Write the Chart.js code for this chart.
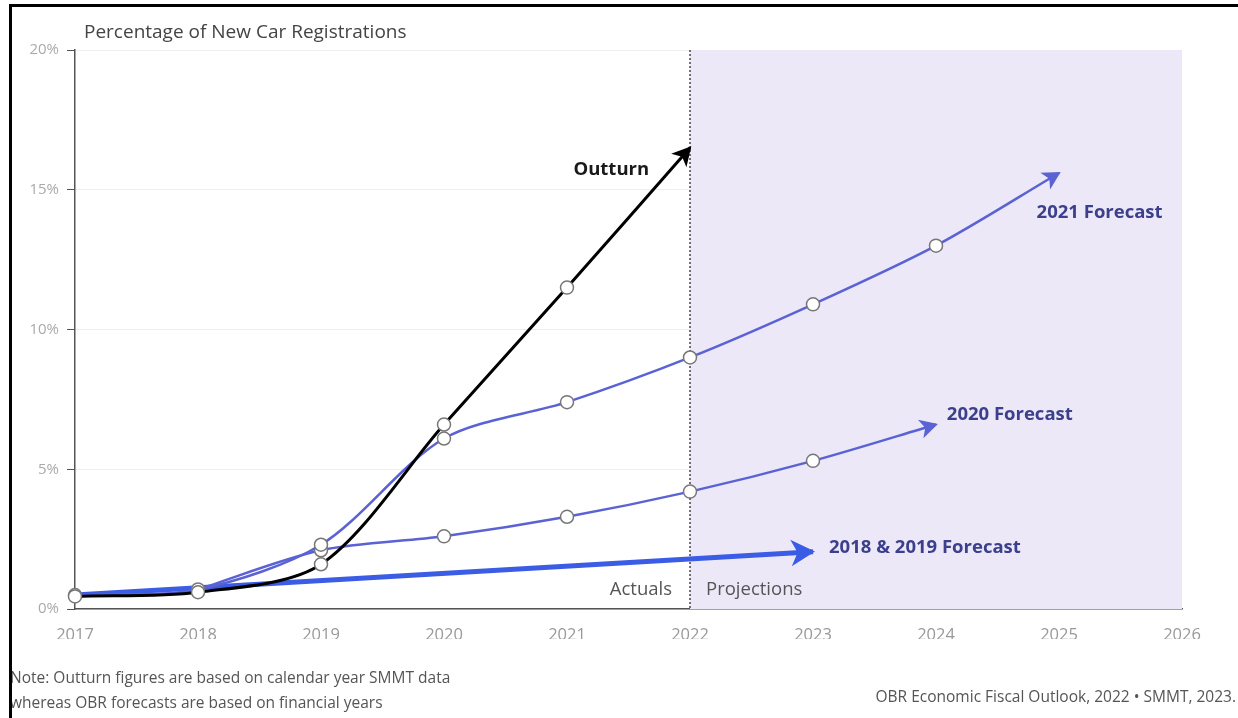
<!DOCTYPE html>
<html>
<head>
<meta charset="utf-8">
<script src="https://cdn.jsdelivr.net/npm/chart.js@4"></script>
<style>
  html, body { margin: 0; padding: 0; background: #fff; }
  #wrap { position: relative; width: 1238px; height: 718px; overflow: hidden; }
  #frame { position: absolute; left: 9px; top: 4px; width: 1229px; height: 714px;
           border-left: 3px solid #000; border-top: 3px solid #000; pointer-events: none; box-sizing: border-box; }
  canvas { position: absolute; left: 0; top: 0; }
</style>
</head>
<body>
<div id="wrap">
  <canvas id="c" width="1238" height="718"></canvas>
  <div id="frame"></div>
</div>
<script>
// ---- data ----
const outturnYears   = [2017, 2018, 2019, 2020, 2021, 2022];
const outturnValues  = [0.45, 0.6, 1.6, 6.6, 11.5, 16.5];
const f2021Years     = [2017, 2018, 2019, 2020, 2021, 2022, 2023, 2024, 2025];
const f2021Values    = [0.5, 0.7, 2.3, 6.1, 7.4, 9.0, 10.9, 13.0, 15.6];
const f2020Years     = [2018, 2019, 2020, 2021, 2022, 2023, 2024];
const f2020Values    = [0.7, 2.1, 2.6, 3.3, 4.2, 5.3, 6.6];
const f1819Years     = [2017, 2023];
const f1819Values    = [0.5, 2.05];
const yTicks         = [0, 5, 10, 15, 20];
const xTicks         = [2017, 2018, 2019, 2020, 2021, 2022, 2023, 2024, 2025, 2026];
const projectionFrom = 2022;
const projectionTo   = 2026;

const pts = (xs, ys) => xs.map((x, i) => ({ x: x, y: ys[i] }));
const radii = (n, r, skipFirst) => Array.from({length: n}, (_, i) => (i === n - 1 || (skipFirst && i === 0)) ? 0 : r);

const BLUE = '#5a62d4';
const BLUE2 = '#3b5ce4';
const LABEL = '#3b3f8c';
const FONT = '"Open Sans", "Noto Sans", sans-serif';

const annotations = [
  { text: 'Outturn', x: 2021.36, y: 15.7, color: '#1a1a1a', bold: true, align: 'center' },
  { text: '2021 Forecast', x: 2025.33, y: 14.17, color: LABEL, bold: true, align: 'center' },
  { text: '2020 Forecast', x: 2024.6, y: 6.94, color: LABEL, bold: true, align: 'center' },
  { text: '2018 & 2019 Forecast', x: 2023.91, y: 2.18, color: LABEL, bold: true, align: 'center' },
];

const bgPlugin = {
  id: 'bg',
  beforeDatasetsDraw(chart) {
    const { ctx, scales: { x, y } } = chart;
    const x0 = x.getPixelForValue(projectionFrom), x1 = x.getPixelForValue(projectionTo);
    const yt = y.getPixelForValue(20), yb = y.getPixelForValue(0);
    ctx.save();
    ctx.fillStyle = '#ece8f7';
    ctx.fillRect(x0, yt, x1 - x0, yb - yt);
    ctx.strokeStyle = '#444';
    ctx.lineWidth = 1.5;
    ctx.setLineDash([2, 2]);
    ctx.beginPath(); ctx.moveTo(x0, yt); ctx.lineTo(x0, yb); ctx.stroke();
    ctx.setLineDash([]);
    // Actuals / Projections labels
    ctx.font = '18.5px ' + FONT;
    ctx.fillStyle = '#555';
    ctx.textBaseline = 'middle';
    const yl = y.getPixelForValue(0) - 19;
    ctx.textAlign = 'right'; ctx.fillText('Actuals', x0 - 18, yl);
    ctx.textAlign = 'left'; ctx.fillText('Projections', x0 + 16, yl);
    ctx.restore();
  }
};

const arrowPlugin = {
  id: 'arrows',
  afterDatasetsDraw(chart) {
    const { ctx } = chart;
    chart.data.datasets.forEach((ds, di) => {
      const meta = chart.getDatasetMeta(di);
      const els = meta.data;
      const last = els[els.length - 1], prev = els[els.length - 2];
      let fx = prev.x, fy = prev.y;
      if (last.cp1x !== undefined && Math.hypot(last.x - last.cp1x, last.y - last.cp1y) > 1) { fx = last.cp1x; fy = last.cp1y; }
      const ang = Math.atan2(last.y - fy, last.x - fx);
      const L = ds.arrowSize, W = ds.arrowSize * 0.6;
      ctx.save();
      ctx.translate(last.x, last.y);
      ctx.rotate(ang);
      ctx.fillStyle = ds.borderColor;
      ctx.beginPath();
      ctx.moveTo(2, 0);
      ctx.lineTo(-L, -W);
      ctx.lineTo(-L * 0.7, 0);
      ctx.lineTo(-L, W);
      ctx.closePath();
      ctx.fill();
      ctx.restore();
    });
    const { x, y } = chart.scales;
    ctx.save();
    ctx.textBaseline = 'middle';
    annotations.forEach(a => {
      ctx.font = (a.bold ? 'bold ' : '') + '18.5px ' + FONT;
      ctx.fillStyle = a.color;
      ctx.textAlign = a.align;
      ctx.fillText(a.text, x.getPixelForValue(a.x), y.getPixelForValue(a.y));
    });
    ctx.restore();
  },
  afterDraw(chart) {
    const { ctx } = chart;
    ctx.save();
    ctx.textBaseline = 'middle';
    ctx.font = '19px ' + FONT;
    ctx.fillStyle = '#444';
    ctx.textAlign = 'left';
    ctx.fillText('Percentage of New Car Registrations', 84, 33);
    ctx.font = '15.5px ' + FONT;
    ctx.fillStyle = '#555';
    ctx.fillText('Note: Outturn figures are based on calendar year SMMT data', 10, 679);
    ctx.fillText('whereas OBR forecasts are based on financial years', 10, 704);
    ctx.textAlign = 'right';
    ctx.fillText('OBR Economic Fiscal Outlook, 2022 \u2022 SMMT, 2023.', 1236, 698);
    ctx.restore();
  }
};

const markerStyle = {
  pointBackgroundColor: '#fff',
  pointBorderColor: '#777',
  pointBorderWidth: 1.5,
  pointHoverRadius: 0,
};

new Chart(document.getElementById('c'), {
  type: 'line',
  data: {
    datasets: [
      Object.assign({
        label: '2018 & 2019 Forecast', data: pts(f1819Years, f1819Values),
        borderColor: BLUE2, borderWidth: 5, tension: 0, pointRadius: 0, arrowSize: 22, order: 4
      }),
      Object.assign({
        label: '2020 Forecast', data: pts(f2020Years, f2020Values),
        borderColor: BLUE, borderWidth: 2.5, tension: 0.3, pointRadius: radii(f2020Years.length, 6.5, true), arrowSize: 16, order: 3
      }, markerStyle),
      Object.assign({
        label: '2021 Forecast', data: pts(f2021Years, f2021Values),
        borderColor: BLUE, borderWidth: 2.5, tension: 0.3, pointRadius: radii(f2021Years.length, 6.5, false), arrowSize: 16, order: 2
      }, markerStyle),
      Object.assign({
        label: 'Outturn', data: pts(outturnYears, outturnValues),
        borderColor: '#000', borderWidth: 3, tension: 0.3, pointRadius: radii(outturnYears.length, 6.5, false), arrowSize: 17, order: 1
      }, markerStyle),
    ]
  },
  options: {
    responsive: false,
    animation: false,
    events: [],
    clip: false,
    layout: { padding: { left: 0, top: 50, right: 56, bottom: 79 } },
    plugins: { legend: { display: false }, tooltip: { enabled: false }, title: { display: false } },
    scales: {
      x: {
        type: 'linear', min: 2017, max: 2026,
        afterBuildTicks: (s) => { s.ticks = xTicks.map(v => ({ value: v })); },
        afterFit: (s) => { s.height = 30; },
        ticks: { color: '#999', font: { size: 16.5, family: FONT }, padding: 10, callback: v => String(v) },
        grid: { display: false, drawOnChartArea: false, drawTicks: true, tickLength: 6, tickColor: '#555' },
        border: { display: true, color: '#555', width: 1.5 }
      },
      y: {
        min: 0, max: 20,
        afterBuildTicks: (s) => { s.ticks = yTicks.map(v => ({ value: v })); },
        afterFit: (s) => { s.width = 75; },
        ticks: { color: '#aaa', font: { size: 15, family: FONT }, padding: 8, callback: v => v + '%' },
        grid: { color: '#eeeeee', lineWidth: 1, tickLength: 8, tickColor: '#555', drawTicks: true },
        border: { display: true, color: '#555', width: 1.5 }
      }
    }
  },
  plugins: [bgPlugin, arrowPlugin]
});
</script>
</body>
</html>
